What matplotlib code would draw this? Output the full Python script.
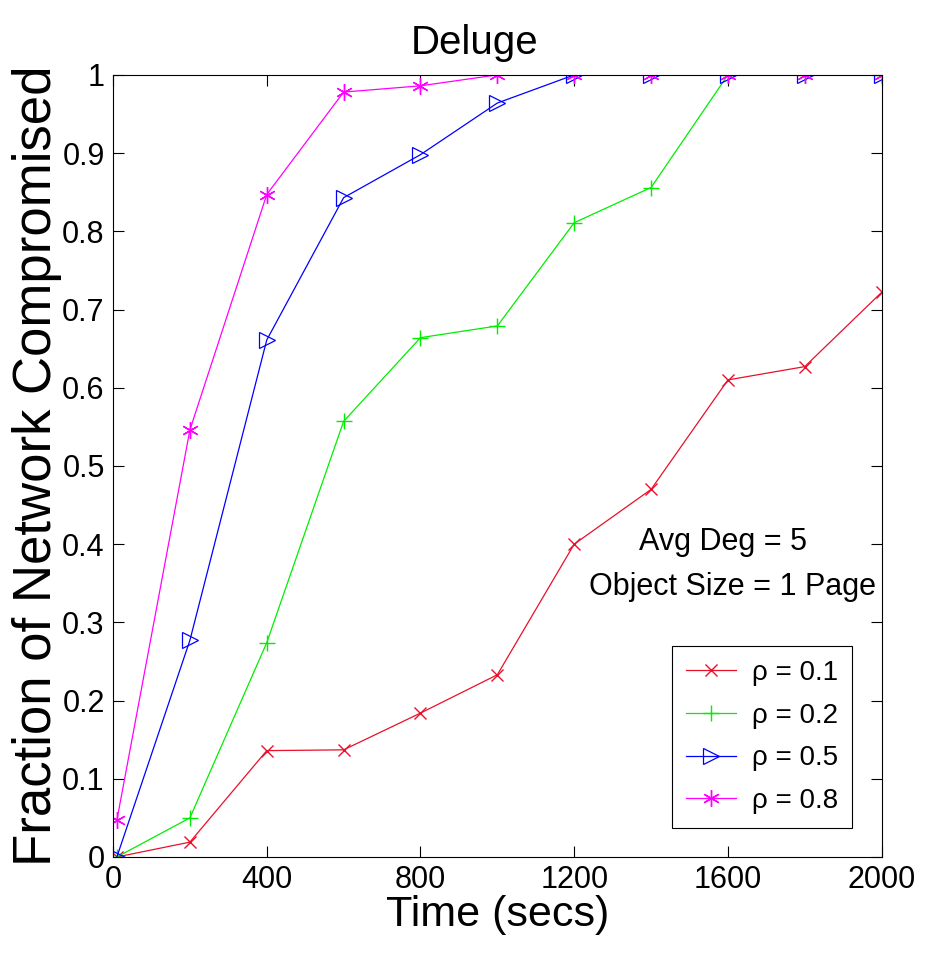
import numpy as np
import matplotlib
matplotlib.use("Agg")
import matplotlib.pyplot as plt

plt.rcParams['font.family'] = ['Liberation Sans', 'DejaVu Sans']

# time points (secs)
time = [10, 200, 400, 600, 800, 1000, 1200, 1400, 1600, 1800, 2000]

# fraction of network compromised per rho
rho_01 = [0.0, 0.019, 0.136, 0.137, 0.184, 0.233, 0.400, 0.470, 0.610, 0.627, 0.722]
rho_02 = [0.0, 0.050, 0.274, 0.557, 0.664, 0.679, 0.811, 0.856, 1.0, 1.0, 1.0]
rho_05 = [0.0, 0.277, 0.661, 0.843, 0.898, 0.964, 1.0, 1.0, 1.0, 1.0, 1.0]
rho_08 = [0.047, 0.546, 0.847, 0.978, 0.986, 1.0, 1.0, 1.0, 1.0, 1.0, 1.0]

labels = [u"\u03c1 = 0.1", u"\u03c1 = 0.2", u"\u03c1 = 0.5", u"\u03c1 = 0.8"]
xticks = [0, 400, 800, 1200, 1600, 2000]
yticks = [0, 0.1, 0.2, 0.3, 0.4, 0.5, 0.6, 0.7, 0.8, 0.9, 1]
yticklabels = ["0", "0.1", "0.2", "0.3", "0.4", "0.5", "0.6", "0.7", "0.8", "0.9", "1"]

fig = plt.figure(figsize=(9.31, 9.60), dpi=100)
ax = fig.add_axes([0.1214, 0.1073, 0.8256, 0.8147])

ax.plot(time, rho_01, color='#e8102a', marker='x', markersize=9, lw=0.9, label=labels[0])
ax.plot(time, rho_02, color='#00ee00', marker='+', markersize=12, lw=0.9, label=labels[1])
ax.plot(time, rho_05, color='#0000ff', marker='>', markersize=12, fillstyle='none',
        markeredgewidth=0.9, lw=0.9, label=labels[2])
ax.plot(time, rho_08, color='#ff00ff', marker=(6, 2, 0), markersize=12, lw=0.9, label=labels[3])

ax.set_xlim(0, 2000)
ax.set_ylim(0, 1)
ax.set_xticks(xticks)
ax.set_yticks(yticks)
ax.set_yticklabels(yticklabels)
ax.tick_params(direction='in', top=True, right=True, length=8, width=0.8,
               labelsize=22, pad=6)
for s in ax.spines.values():
    s.set_linewidth(0.8)

ax.set_title("Deluge", fontsize=29, pad=15, x=0.471)
ax.set_xlabel("Time (secs)", fontsize=31, labelpad=0)
ax.set_ylabel("Fraction of Network Compromised", fontsize=38, labelpad=0)

ax.text(1586, 0.403, "Avg Deg = 5", fontsize=22, ha='center', va='center')
ax.text(1612, 0.345, "Object Size = 1 Page", fontsize=22, ha='center', va='center')

leg = ax.legend(loc='lower right', bbox_to_anchor=(0.962, 0.037), borderaxespad=0,
                fontsize=20, fancybox=False, framealpha=1, edgecolor='black',
                handlelength=1.8, handletextpad=0.6, borderpad=0.5, labelspacing=0.6)
leg.get_frame().set_linewidth(0.8)

fig.savefig("out.png", dpi=100)
